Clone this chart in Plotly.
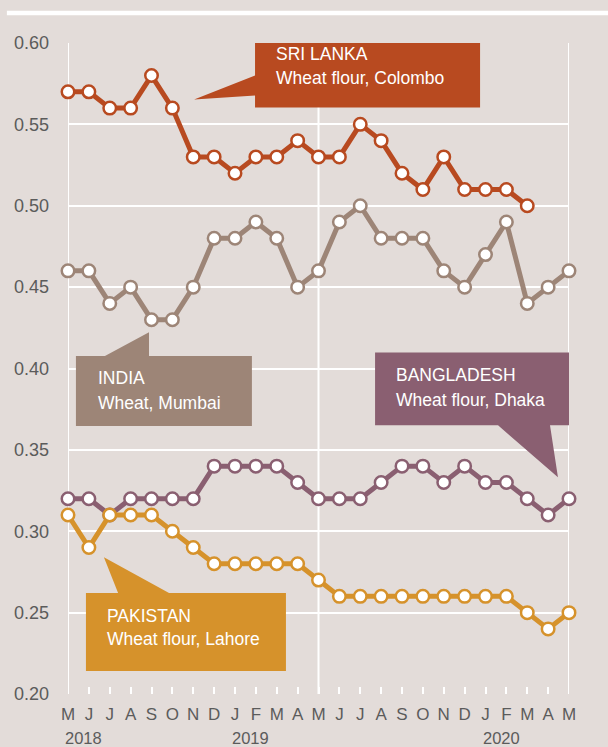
import plotly.graph_objects as go

# ---------------- data ----------------
months = ["M", "J", "J", "A", "S", "O", "N", "D", "J", "F", "M", "A",
          "M", "J", "J", "A", "S", "O", "N", "D", "J", "F", "M", "A", "M"]
years = ["2018", "2019", "2020"]
year_pos = [0, 8, 20]

sri_lanka = [0.57, 0.57, 0.56, 0.56, 0.58, 0.56, 0.53, 0.53, 0.52, 0.53, 0.53, 0.54,
             0.53, 0.53, 0.55, 0.54, 0.52, 0.51, 0.53, 0.51, 0.51, 0.51, 0.50]
india = [0.46, 0.46, 0.44, 0.45, 0.43, 0.43, 0.45, 0.48, 0.48, 0.49, 0.48, 0.45,
         0.46, 0.49, 0.50, 0.48, 0.48, 0.48, 0.46, 0.45, 0.47, 0.49, 0.44, 0.45, 0.46]
bangladesh = [0.32, 0.32, 0.31, 0.32, 0.32, 0.32, 0.32, 0.34, 0.34, 0.34, 0.34, 0.33,
              0.32, 0.32, 0.32, 0.33, 0.34, 0.34, 0.33, 0.34, 0.33, 0.33, 0.32, 0.31, 0.32]
pakistan = [0.31, 0.29, 0.31, 0.31, 0.31, 0.30, 0.29, 0.28, 0.28, 0.28, 0.28, 0.28,
            0.27, 0.26, 0.26, 0.26, 0.26, 0.26, 0.26, 0.26, 0.26, 0.26, 0.25, 0.24, 0.25]
y_ticks = [0.20, 0.25, 0.30, 0.35, 0.40, 0.45, 0.50, 0.55, 0.60]

# ---------------- styles ----------------
BG = "#e3dcd9"
C_SL = "#b84a20"
C_IN = "#9d8577"
C_BD = "#8a5f71"
C_PK = "#d6922b"
FONT = "Liberation Sans, Arial, sans-serif"
TICK_COLOR = "#5b5b5b"

fig = go.Figure()

def add_series(vals, color):
    fig.add_trace(go.Scatter(
        x=list(range(len(vals))), y=vals, mode="lines+markers",
        line=dict(color=color, width=5),
        marker=dict(size=12.5, color="white", line=dict(color=color, width=2.5)),
        cliponaxis=False, showlegend=False, hoverinfo="skip"))

add_series(india, C_IN)
add_series(sri_lanka, C_SL)
add_series(bangladesh, C_BD)
add_series(pakistan, C_PK)

shapes = []
# vertical frame / divider lines
for xv in [0, 12, 24]:
    shapes.append(dict(type="line", xref="x", yref="y", x0=xv, x1=xv, y0=0.20, y1=0.60,
                       line=dict(color="white", width=2), layer="below"))
# top white rule
shapes.append(dict(type="line", xref="paper", yref="paper", x0=-0.122, x1=1.08,
                   y0=1.046, y1=1.046, line=dict(color="white", width=4.5), layer="below"))

def callout(path_pts, color):
    d = "M " + " L ".join(f"{x},{y}" for x, y in path_pts) + " Z"
    shapes.append(dict(type="path", xref="x", yref="y", path=d,
                       fillcolor=color, line=dict(width=0), layer="between"))

# Sri Lanka box with pointer to the left
callout([(8.96, 0.6071), (19.74, 0.6071), (19.74, 0.5604), (8.96, 0.5604),
         (8.96, 0.5678), (6.04, 0.5653), (8.96, 0.5800)], C_SL)
# India box with pointer up
callout([(0.38, 0.4077), (1.77, 0.4077), (3.88, 0.4222), (3.88, 0.4077),
         (8.81, 0.4077), (8.81, 0.3647), (0.38, 0.3647)], C_IN)
# Bangladesh box with pointer down
callout([(14.71, 0.4099), (24.77, 0.4099), (24.77, 0.3651), (23.09, 0.3651),
         (23.47, 0.3332), (20.6, 0.3651), (14.71, 0.3651)], C_BD)
# Pakistan box with pointer up
callout([(0.86, 0.2620), (2.40, 0.2620), (1.72, 0.2840), (4.84, 0.2620),
         (10.44, 0.2620), (10.44, 0.2141), (0.86, 0.2141)], C_PK)

annotations = []
def label(x, y_title, y_sub, title, sub):
    for yy, txt in ((y_title, title), (y_sub, sub)):
        annotations.append(dict(x=x, y=yy, xref="x", yref="y", xanchor="left",
                                yanchor="middle", text=txt, showarrow=False,
                                font=dict(family=FONT, size=17.5, color="white")))

label(9.87, 0.5935, 0.5782, "SRI LANKA", "Wheat flour, Colombo")
label(1.34, 0.3939, 0.3786, "INDIA", "Wheat, Mumbai")
label(15.62, 0.3958, 0.3804, "BANGLADESH", "Wheat flour, Dhaka")
label(1.77, 0.2477, 0.2336, "PAKISTAN", "Wheat flour, Lahore")

for yr, pos in zip(years, year_pos):
    annotations.append(dict(x=pos, y=-0.0675, xref="x", yref="paper", xanchor="left",
                            yanchor="middle", xshift=-5, text=yr, showarrow=False,
                            font=dict(family=FONT, size=16.5, color=TICK_COLOR)))

fig.update_layout(
    width=608, height=747,
    margin=dict(l=68, r=39, t=42.5, b=53, autoexpand=False),
    paper_bgcolor=BG, plot_bgcolor=BG,
    shapes=shapes, annotations=annotations,
    xaxis=dict(range=[0, 24], tickvals=list(range(len(months))), ticktext=months,
               showgrid=False, zeroline=False, showline=False, automargin=False,
               ticks="inside", ticklen=7, tickwidth=2, tickcolor="white",
               tickfont=dict(family=FONT, size=17, color=TICK_COLOR),
               ticklabelstandoff=8, fixedrange=True),
    yaxis=dict(range=[0.20, 0.60], tickvals=y_ticks, tickformat=".2f",
               showgrid=True, gridcolor="white", gridwidth=2, zeroline=False,
               showline=False, ticks="", automargin=False,
               tickfont=dict(family=FONT, size=18, color=TICK_COLOR),
               ticklabelstandoff=18, fixedrange=True),
    font=dict(family=FONT),
)

fig.write_html(
    "out.html",
    config={"displayModeBar": False},
    post_script=("document.body.style.margin='0';"
                 "document.body.style.overflow='hidden';"
                 f"document.body.style.background='{BG}';"),
)
